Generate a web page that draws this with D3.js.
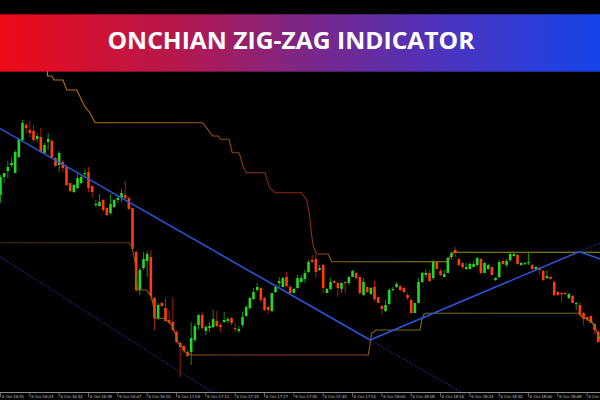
<!DOCTYPE html>
<html><head><meta charset="utf-8">
<script src="https://cdn.jsdelivr.net/npm/d3@7"></script>
<style>html,body{margin:0;padding:0;background:#000;overflow:hidden}</style>
</head><body><svg id="c" width="600" height="400"></svg>
<script>
// ---- data (price units) ----
const open  = [205,223,229,235,227,243,260,275,270,269,261,263,247,258,259,242,235,238,233,217,208,212,217,226,228,214,195,194,200,192,187,193,200,202,205,202,192,148,110,132,139,143,102,82,97,92,80,78,68,57,54,48,48,60,75,85,69,72,73,79,75,78,79,82,72,69,75,84,92,101,110,112,102,93,89,108,117,113,123,113,107,112,118,121,128,140,141,130,135,107,111,119,117,111,118,117,123,127,123,105,113,106,113,103,94,89,96,110,113,114,112,105,100,87,97,118,125,127,122,138,129,123,127,143,150,141,137,131,131,133,135,141,127,131,133,120,123,139,135,140,144,145,135,136,137,135,131,132,129,122,123,118,108,107,107,102,104,96,95,87,83,84,76,68];
const high  = [225,227,239,242,250,262,280,277,279,275,267,272,257,267,261,243,249,240,235,217,216,227,225,231,233,215,200,206,201,193,206,201,204,211,219,203,192,150,132,148,149,150,103,97,98,102,90,103,70,58,55,50,78,77,86,88,75,78,90,89,77,88,83,83,77,74,88,95,103,112,117,113,103,95,107,115,123,123,128,115,112,125,125,130,140,145,145,135,136,112,122,120,118,118,119,124,130,128,123,122,114,113,119,103,95,100,112,113,118,115,114,107,102,97,122,128,131,130,140,139,131,130,143,148,153,142,137,137,138,139,143,142,138,136,133,123,140,140,141,147,147,146,138,138,147,136,134,133,130,130,124,119,109,108,108,107,105,98,98,88,83,85,77,70];
const low   = [197,217,222,233,227,242,259,267,263,258,258,247,246,250,242,233,228,228,214,208,207,211,216,223,208,202,193,193,188,184,185,192,197,198,201,190,150,108,105,130,123,99,70,80,93,78,77,68,57,23,47,43,35,58,70,70,65,68,72,73,68,77,77,75,68,67,73,83,90,100,108,98,89,86,88,107,113,113,113,106,107,111,117,117,127,137,122,129,107,107,110,117,103,107,107,115,123,121,105,104,107,105,99,97,85,88,95,109,112,109,107,100,86,87,97,117,123,118,120,130,124,123,127,140,143,134,131,130,130,133,133,126,127,130,124,119,122,135,133,138,143,135,134,135,135,130,130,125,119,121,121,104,104,98,105,101,97,90,84,75,79,77,66,57];
const close = [223,227,233,237,248,261,277,272,267,260,264,248,255,261,243,234,247,232,215,209,215,222,223,227,212,208,196,198,190,185,196,200,202,207,202,191,151,110,130,141,146,104,82,95,94,79,77,70,58,53,49,44,62,74,85,72,73,74,81,74,73,80,81,77,71,71,83,93,102,108,113,100,90,90,107,113,119,122,114,107,111,122,122,127,138,138,128,132,112,111,118,117,112,117,117,123,129,122,107,118,108,112,101,97,91,95,110,111,116,110,108,102,87,97,118,127,127,119,138,131,125,126,142,147,147,135,133,133,136,136,142,127,137,135,125,122,138,136,139,146,146,136,137,137,138,131,133,130,120,124,121,105,105,106,106,106,97,97,85,81,81,77,70,58];

const timeLabels = ["6 Oct 16:15","6 Oct 16:23","6 Oct 16:31","6 Oct 16:39","6 Oct 16:47","6 Oct 16:55","6 Oct 17:03","6 Oct 17:11","6 Oct 17:19","6 Oct 17:27","6 Oct 17:35","6 Oct 17:43","6 Oct 17:51","6 Oct 18:00","6 Oct 18:08","6 Oct 18:16","6 Oct 18:24","6 Oct 18:32","6 Oct 18:40","6 Oct 18:48","6 Oct"];
const labelBars  = [0,8,16,24,32,40,48,56,64,72,80,88,96,104,112,120,128,136,144,152,160];

// Donchian channel bands: [bar index, price]
const upperBand = [[12.8,340],[12.8,324],[14.0,324],[14.6,320],[17.0,320],[18.1,310],[20.8,310],[23.0,293.3],[24.4,287.3],[25.8,277.3],[55.1,277.3],[57.9,264],[59.4,264],[60.0,260.7],[62.3,260.7],[63.2,247.3],[65.1,247.3],[66.2,232.7],[67.1,227.3],[72.1,227.3],[73.3,212.7],[74.9,207.3],[82.1,207.3],[83.5,200],[84.2,186.7],[84.9,163.3],[85.3,153.3],[86.2,146],[89.4,146],[90.3,138.3],[121.7,138.3],[122.6,143.3],[123.5,147.7],[163.6,147.7]];
const lowerBand = [[-0.2,157.3],[35.0,157.3],[35.8,153.3],[36.2,146.7],[36.7,136.7],[37.0,123.3],[37.3,110],[39.9,110],[40.3,107.3],[41.2,103.3],[41.7,93.3],[41.9,81.7],[44.4,81.7],[45.8,78.3],[46.7,75],[47.3,70],[48.5,56.7],[49.4,53.3],[50.3,48.3],[51.2,46.7],[52.1,45],[100.3,45],[100.8,56.7],[101.2,66.7],[102.4,70],[114.4,70],[114.9,80],[115.5,86],[116.2,86.7],[157.8,86.7],[158.5,83.3],[159.9,80.7],[161.2,78.3],[162.1,73.3],[162.6,68.3],[163.6,60]];

// zig-zag trend lines: [[bar,price],[bar,price]]
const trendSolid  = [[[-0.2,271.7],[100.8,60]], [[100.8,60],[157.8,148.3]], [[157.8,148.3],[163.6,141]]];
const trendDotted = [[[100.8,60],[127,5]], [[157.8,148.3],[163.6,157.1]], [[-0.2,143.3],[58.5,6]]];

const title = "ONCHIAN ZIG-ZAG INDICATOR";

// ---- drawing ----
const svg = d3.select("#c");
const x = d3.scaleLinear().domain([0,163]).range([0.5, 0.5+163*3.667]);
const y = d3.scaleLinear().domain([0,400]).range([400,0]);

svg.append("rect").attr("width",600).attr("height",400).attr("fill","#000");

const defs = svg.append("defs");
function grad(id, stops){
  const g = defs.append("linearGradient").attr("id",id).attr("gradientUnits","userSpaceOnUse")
    .attr("x1",0).attr("x2",600).attr("y1",0).attr("y2",0);
  stops.forEach(s=>g.append("stop").attr("offset",s[0]).attr("stop-color",s[1]));
}
grad("gUp",[[0,"#c8780c"],[0.16,"#b46c0e"],[0.34,"#a05a12"],[0.40,"#8e3a18"],[0.46,"#862818"],[0.515,"#942418"],[0.535,"#8a4c12"],[0.58,"#8a6c12"],[0.75,"#969014"],[1,"#a0a018"]]);
grad("gLo",[[0,"#4a2c0c"],[0.21,"#5a380c"],[0.225,"#8a5a10"],[0.3,"#9a6a12"],[0.34,"#8a4a20"],[0.45,"#8a3a28"],[0.6,"#8a4020"],[0.625,"#8a6a12"],[0.7,"#7a6c10"],[0.95,"#6a6812"],[1,"#9a7a10"]]);
grad("banner",[[0,"#ee0a18"],[0.3,"#b4184e"],[0.5,"#7e2686"],[0.75,"#4a34c0"],[1,"#1544ea"]]);

const idx = d3.range(open.length);
const bull = i => close[i] >= open[i];

// wicks
svg.append("g").selectAll("line").data(idx).join("line")
  .attr("x1",i=>x(i)).attr("x2",i=>x(i))
  .attr("y1",i=>y(high[i])).attr("y2",i=>y(low[i]))
  .attr("stroke",i=>bull(i)?"#0f8f0f":"#a81a0a").attr("stroke-width",1);
// bodies
svg.append("g").selectAll("rect").data(idx).join("rect")
  .attr("x",i=>x(i)-1.3).attr("width",2.6)
  .attr("y",i=>y(Math.max(open[i],close[i])))
  .attr("height",i=>Math.max(1.2, Math.abs(y(open[i])-y(close[i]))))
  .attr("fill",i=>bull(i)?"#22d822":"#ff3c0a");

const line = d3.line().x(d=>x(d[0])).y(d=>y(d[1]));
svg.append("path").attr("d",line(upperBand)).attr("fill","none").attr("stroke","url(#gUp)").attr("stroke-width",1.1);
svg.append("path").attr("d",line(lowerBand)).attr("fill","none").attr("stroke","url(#gLo)").attr("stroke-width",1.1);

svg.append("g").selectAll("path").data(trendDotted).join("path")
  .attr("d",d=>line(d)).attr("fill","none").attr("stroke","#1c3cb4").attr("stroke-width",1).attr("stroke-dasharray","1.5,1.5");
svg.append("g").selectAll("path").data(trendSolid).join("path")
  .attr("d",d=>line(d)).attr("fill","none").attr("stroke","#2a56e0").attr("stroke-width",1.5);

// time axis
const ax = svg.append("g");
ax.append("line").attr("x1",0).attr("x2",600).attr("y1",392.5).attr("y2",392.5).attr("stroke","#8c8c8c").attr("stroke-width",1);
ax.selectAll("line.t").data(labelBars).join("line").attr("class","t")
  .attr("x1",d=>x(d)).attr("x2",d=>x(d)).attr("y1",392.5).attr("y2",397)
  .attr("stroke","#8c8c8c").attr("stroke-width",0.7);
ax.selectAll("text").data(labelBars).join("text")
  .attr("x",d=>x(d)+1.3).attr("y",397.6)
  .attr("font-family","Liberation Sans, Arial, sans-serif").attr("font-size",4.3)
  .attr("fill","#c8c8c8").text((d,k)=>timeLabels[k]);

// banner
svg.append("rect").attr("x",0).attr("y",14.3).attr("width",600).attr("height",57.4).attr("fill","url(#banner)");
svg.append("text").attr("x",291).attr("y",48.5).attr("text-anchor","middle")
  .attr("font-family","Open Sans, Inter, sans-serif").attr("font-weight",700).attr("font-size",22.4)
  .attr("textLength",367).attr("lengthAdjust","spacingAndGlyphs")
  .attr("fill","#fff").text(title);
</script>
</body></html>
